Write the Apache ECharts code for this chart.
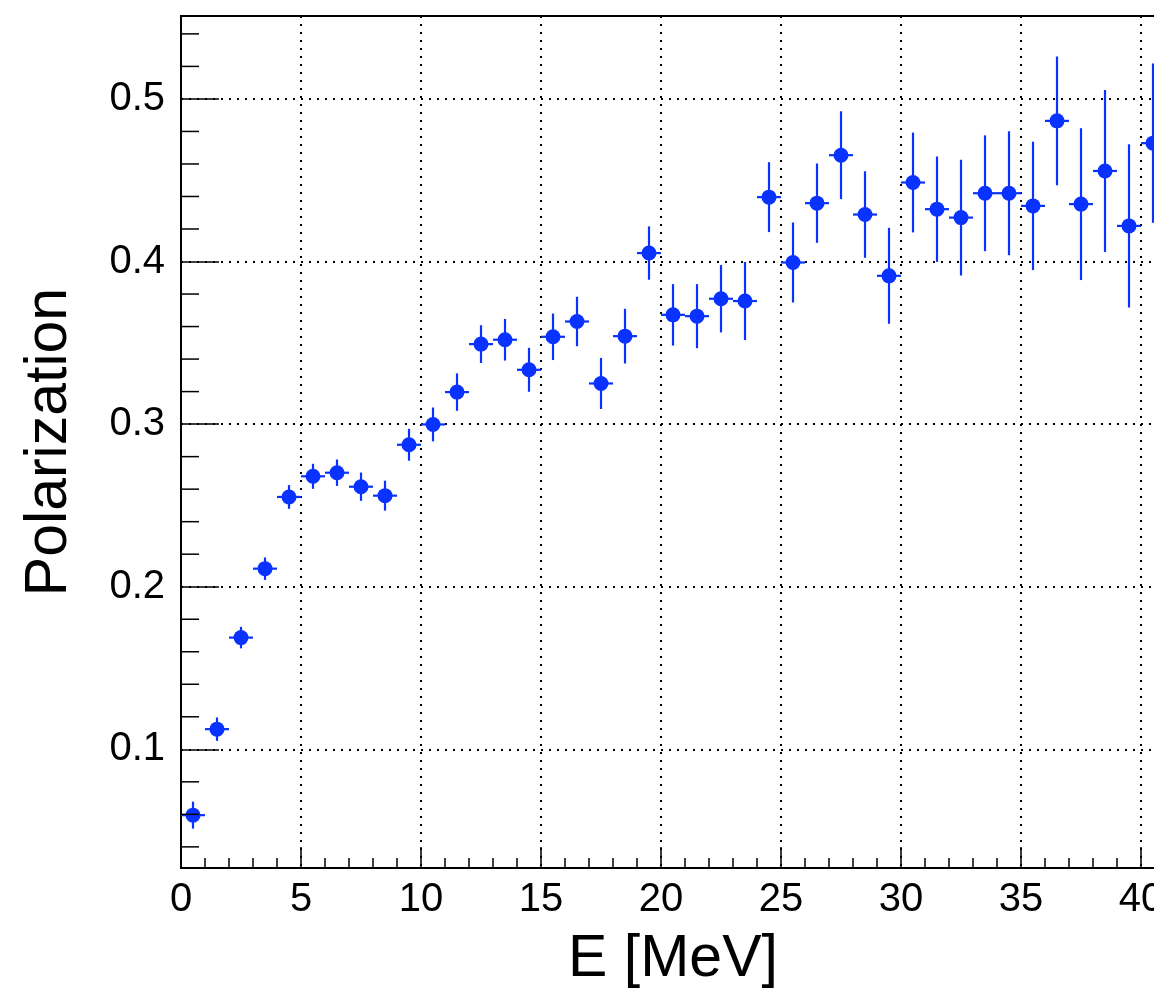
<!DOCTYPE html>
<html>
<head>
<meta charset="utf-8">
<script src="https://cdn.jsdelivr.net/npm/echarts@6/dist/echarts.min.js"></script>
<style>
html,body{margin:0;padding:0;background:#fff;}
#chart{width:1154px;height:998px;}
</style>
</head>
<body>
<div id="chart"></div>
<script>
// ---- data ----
const energies = [0.5,1.5,2.5,3.5,4.5,5.5,6.5,7.5,8.5,9.5,10.5,11.5,12.5,13.5,14.5,15.5,16.5,17.5,18.5,19.5,20.5,21.5,22.5,23.5,24.5,25.5,26.5,27.5,28.5,29.5,30.5,31.5,32.5,33.5,34.5,35.5,36.5,37.5,38.5,39.5,40.5];
const polarization = [0.0595,0.1124,0.1687,0.2111,0.2552,0.2679,0.2701,0.2615,0.2560,0.2873,0.2998,0.3197,0.3492,0.3519,0.3334,0.3537,0.3631,0.3250,0.3541,0.4052,0.3672,0.3664,0.3771,0.3757,0.4396,0.3994,0.4359,0.4654,0.4289,0.3912,0.4486,0.4322,0.4270,0.4420,0.4420,0.4342,0.4865,0.4353,0.4557,0.4219,0.4728];
const polErr = [0.0083,0.0072,0.0066,0.0069,0.0073,0.0077,0.0081,0.0087,0.0092,0.0098,0.0104,0.0115,0.0116,0.0128,0.0135,0.0143,0.0152,0.0157,0.0168,0.0164,0.0189,0.0197,0.0207,0.0240,0.0215,0.0246,0.0244,0.0270,0.0266,0.0295,0.0307,0.0324,0.0356,0.0356,0.0381,0.0395,0.0396,0.0467,0.0498,0.0502,0.0490];
const binHalfWidth = 0.5;
const xMinorTicks = [1,2,3,4,6,7,8,9,11,12,13,14,16,17,18,19,21,22,23,24,26,27,28,29,31,32,33,34,36,37,38,39,41];
const yMinorTicks = [0.04,0.06,0.08,0.12,0.14,0.16,0.18,0.22,0.24,0.26,0.28,0.32,0.34,0.36,0.38,0.42,0.44,0.46,0.48,0.52,0.54];
const xRange = [0, 41];
const yRange = [0.027, 0.551];

const blue = '#0a32ff';
const font = "'Liberation Sans', Arial, Helvetica, sans-serif";

const chart = echarts.init(document.getElementById('chart'), null, {renderer:'canvas'});

const option = {
  animation: false,
  backgroundColor: '#ffffff',
  grid: {left:181, top:16, width:984, height:852, outerBoundsMode:'none', containLabel:false,
    show:true, borderColor:'#000', borderWidth:2, backgroundColor:'transparent'},
  xAxis: {
    type:'value', min:xRange[0], max:xRange[1], interval:5,
    name:'E [MeV]', nameLocation:'middle', nameGap:62,
    nameTextStyle:{fontFamily:font, fontSize:59, color:'#000'},
    axisLine:{show:true, onZero:false, lineStyle:{color:'#000', width:2}},
    axisTick:{show:true, inside:true, length:21, lineStyle:{color:'#000', width:1.5}},
    axisLabel:{show:true, margin:12, fontFamily:font, fontSize:40, color:'#000', hideOverlap:false,
      formatter:(v)=> (Math.abs(v/5 - Math.round(v/5))<1e-6 ? String(v) : '')},
    splitLine:{show:true, lineStyle:{color:'#000', width:2, type:[2,6]}}
  },
  yAxis: {
    type:'value', min:yRange[0], max:yRange[1], splitNumber:5,
    name:'Polarization', nameLocation:'middle', nameGap:102,
    nameTextStyle:{fontFamily:font, fontSize:59, color:'#000'},
    axisLine:{show:true, onZero:false, lineStyle:{color:'#000', width:2}},
    axisTick:{show:true, inside:true, length:38, lineStyle:{color:'#000', width:1.5}},
    axisLabel:{show:true, margin:16, fontFamily:font, fontSize:40, color:'#000',
      formatter:(v)=> (Math.abs(v*10 - Math.round(v*10))<1e-6 ? v.toFixed(1) : '')},
    splitLine:{show:true, lineStyle:{color:'#000', width:2, type:[2,6]}}
  },
  series: [
    {
      type:'custom', z:3,
      renderItem:(params, api)=>{
        const x = api.value(0), y = api.value(1), e = api.value(2);
        const lo = api.coord([x, y-e]), hi = api.coord([x, y+e]);
        const l = api.coord([x-binHalfWidth, y]), r = api.coord([x+binHalfWidth, y]);
        return {type:'group', children:[
          {type:'line', shape:{x1:lo[0],y1:lo[1],x2:hi[0],y2:hi[1]}, style:{stroke:blue, lineWidth:2.2, opacity:1}},
          {type:'line', shape:{x1:l[0],y1:l[1],x2:r[0],y2:r[1]}, style:{stroke:blue, lineWidth:2.2, opacity:1}}
        ]};
      },
      data: energies.map((e,i)=>[e, polarization[i], polErr[i]])
    },
    {
      type:'scatter', z:4, symbol:'circle', symbolSize:15,
      itemStyle:{color:blue, opacity:1},
      data: energies.map((e,i)=>[e, polarization[i]])
    },
    {
      type:'custom', z:5, silent:true,
      renderItem:(params, api)=>{
        const p = api.coord([api.value(0), api.value(1)]);
        return {type:'line', shape:{x1:p[0], y1:p[1], x2:p[0]+18, y2:p[1]}, style:{stroke:'#000', lineWidth:1.5}};
      },
      data: yMinorTicks.map(v=>[xRange[0], v])
    },
    {
      type:'custom', z:5, silent:true,
      renderItem:(params, api)=>{
        const p = api.coord([api.value(0), api.value(1)]);
        return {type:'line', shape:{x1:p[0], y1:p[1], x2:p[0], y2:p[1]-10}, style:{stroke:'#000', lineWidth:1.5}};
      },
      data: xMinorTicks.map(v=>[v, yRange[0]])
    }
  ]
};
chart.setOption(option);
</script>
</body>
</html>
